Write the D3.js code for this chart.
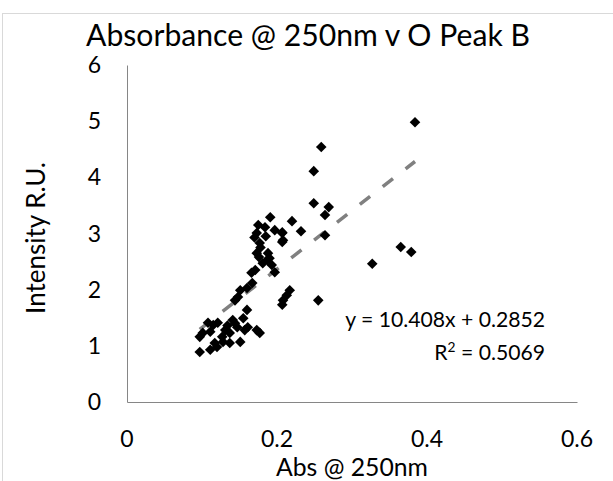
<!DOCTYPE html>
<html><head><meta charset="utf-8">
<script src="https://cdn.jsdelivr.net/npm/d3@7"></script>
<style>body{margin:0;background:#fff}svg{display:block}</style>
</head><body>
<svg id="c" width="613" height="481"></svg>
<script>
const absX = [0.384,0.259,0.249,0.249,0.269,0.264,0.220,0.232,0.264,0.365,0.379,0.327,0.255,0.207,0.207,
  0.191,0.175,0.184,0.197,0.207,0.173,0.208,0.177,0.173,0.188,0.187,0.181,0.193,0.171,0.197,0.167,0.160,0.151,0.148,0.144,
  0.217,0.213,0.208,0.207,
  0.160,0.155,0.141,0.121,0.115,0.131,0.147,0.101,0.111,0.127,0.137,0.157,0.097,0.111,0.120,0.128,0.137,0.151,0.161,0.173,0.177,0.108,0.097,0.117,
  0.170,0.185,0.178,0.176,0.190,0.166,0.134,0.144];
const intensity = [4.98,4.54,4.11,3.54,3.47,3.33,3.22,3.04,2.97,2.76,2.67,2.46,1.81,3.02,2.85,
  3.29,3.15,3.11,3.06,3.01,3.01,2.88,2.83,2.65,2.65,2.53,2.47,2.44,2.35,2.31,2.12,2.03,1.99,1.87,1.81,
  1.99,1.90,1.81,1.73,
  1.64,1.49,1.46,1.41,1.37,1.28,1.33,1.23,1.25,1.16,1.23,1.28,0.89,0.93,0.98,1.07,1.05,1.07,1.33,1.28,1.23,1.41,1.16,1.05,
  2.93,2.95,2.75,2.58,2.56,2.30,1.36,1.40];
const xTicks = [0,0.2,0.4,0.6];
const yTicks = [0,1,2,3,4,5,6];
const slope = 10.408, intercept = 0.2852;
const titleText = "Absorbance @ 250nm v O Peak B";
const xTitle = "Abs @ 250nm";
const yTitle = "Intensity R.U.";
const eqText = "y = 10.408x + 0.2852";

const svg = d3.select("#c");
const FONT = "Lato, 'Open Sans', sans-serif";
const x = d3.scaleLinear().domain([0,0.6]).range([127,577]);
const y = d3.scaleLinear().domain([0,6]).range([402,65]);

function fit(sel, w){
  sel.attr("font-size",24);
  const l = sel.node().getComputedTextLength();
  sel.attr("font-size", 24*w/l);
  return sel;
}

svg.append("rect").attr("x",2.5).attr("y",13.5).attr("width",700).attr("height",700)
  .attr("fill","none").attr("stroke","#d9d9d9");

// axes lines
const gx = svg.append("g").attr("transform","translate(0,402)")
  .call(d3.axisBottom(x).tickValues(xTicks).tickSize(0).tickPadding(0).tickFormat(d3.format("")));
gx.select(".domain").attr("stroke","#868686").attr("stroke-width",1);
gx.selectAll("text").remove();
const gy = svg.append("g").attr("transform","translate(127,0)")
  .call(d3.axisLeft(y).tickValues(yTicks).tickSize(0).tickPadding(0));
gy.select(".domain").attr("stroke","#868686").attr("stroke-width",1);
gy.selectAll("text").remove();

// tick labels
svg.append("g").selectAll("text").data(xTicks).join("text")
  .attr("x",d=>x(d)).attr("y",447).attr("text-anchor","middle")
  .attr("font-family",FONT).attr("font-size",23).attr("fill","#000")
  .text(d=>d3.format("")(d));
svg.append("g").selectAll("text").data(yTicks).join("text")
  .attr("x",101).attr("y",d=>y(d)+8).attr("text-anchor","end")
  .attr("font-family",FONT).attr("font-size",23).attr("fill","#000")
  .text(d=>d);

// trendline
const x0 = d3.min(absX), x1 = d3.max(absX);
svg.append("line")
  .attr("x1",x(x0)).attr("y1",y(slope*x0+intercept))
  .attr("x2",x(x1)).attr("y2",y(slope*x1+intercept))
  .attr("stroke","#808080").attr("stroke-width",3.5).attr("stroke-dasharray","13,16");

// markers
const sym = d3.symbol().type(d3.symbolSquare).size(56);
svg.append("g").selectAll("path").data(absX.map((v,i)=>[v,intensity[i]])).join("path")
  .attr("d",sym)
  .attr("transform",d=>`translate(${x(d[0])},${y(d[1])}) rotate(45)`)
  .attr("fill","#000");

// titles
const t = svg.append("text").attr("x",308).attr("y",46).attr("text-anchor","middle")
  .attr("font-family",FONT).attr("fill","#000").text(titleText);
fit(t,444);
const xt = svg.append("text").attr("x",352).attr("y",476).attr("text-anchor","middle")
  .attr("font-family",FONT).attr("fill","#000").text(xTitle);
fit(xt,152);
const yt = svg.append("text").attr("transform","translate(45,238) rotate(-90)").attr("text-anchor","middle")
  .attr("font-family",FONT).attr("fill","#000").text(yTitle);
fit(yt,152);

// equation
const e1 = svg.append("text").attr("x",545).attr("y",327).attr("text-anchor","end")
  .attr("font-family",FONT).attr("fill","#000").text(eqText);
fit(e1,200);
const fs = +e1.attr("font-size");
const e2 = svg.append("text").attr("x",545).attr("y",360).attr("text-anchor","end")
  .attr("font-family",FONT).attr("fill","#000").attr("font-size",fs);
e2.append("tspan").text("R");
e2.append("tspan").text("2").attr("dy",-8).attr("font-size",fs*0.65);
e2.append("tspan").text(" = 0.5069").attr("dy",8);
</script>
</body></html>
